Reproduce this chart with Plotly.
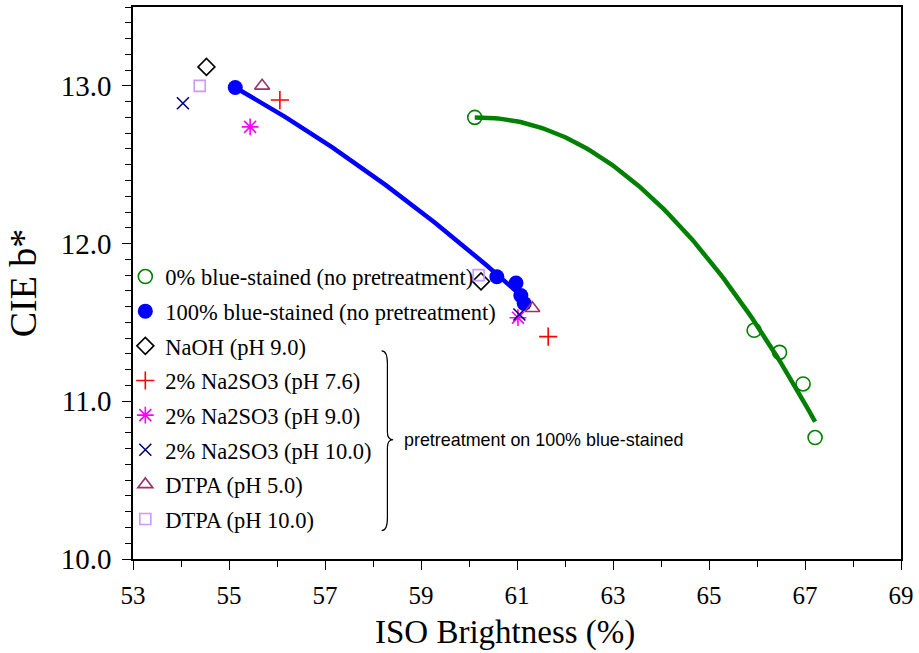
import numpy as np
import plotly.graph_objects as go

# ISO brightness (%) and CIE b* for the unpretreated pulps
brightness_0 = [60.12, 65.94, 66.47, 66.96, 67.21]
b_star_0 = [12.80, 11.45, 11.31, 11.11, 10.77]
brightness_100 = [55.13, 60.58, 60.98, 61.08, 61.15]
b_star_100 = [12.99, 11.79, 11.75, 11.67, 11.62]

# Pretreatments applied to the 100% blue-stained pulp
naoh_90_x = [54.53, 60.25]
naoh_90_y = [13.12, 11.76]
sulfite_76_x = [56.06, 61.65]
sulfite_76_y = [12.91, 11.41]
sulfite_90_x = [55.44, 61.02]
sulfite_90_y = [12.74, 11.53]
sulfite_100_x = [54.04, 61.05]
sulfite_100_y = [12.89, 11.55]
dtpa_50_x = [55.69, 61.32]
dtpa_50_y = [13.00, 11.59]
dtpa_100_x = [54.39, 60.20]
dtpa_100_y = [13.00, 11.80]

SERIF = "Liberation Serif, Times New Roman, serif"
SANS = "Liberation Sans, Arial, sans-serif"


def quad_trend(x, y):
    """Second-order trend line through a series, spanning its x range."""
    coef = np.polyfit(x, y, 2)
    xs = np.linspace(min(x), max(x), 120)
    return xs, np.polyval(coef, xs)


fig = go.Figure()

# trend lines (drawn beneath the markers)
for bx, by, col in [(brightness_0, b_star_0, "#008000"),
                    (brightness_100, b_star_100, "#0000FF")]:
    tx, ty = quad_trend(bx, by)
    fig.add_trace(go.Scatter(x=tx, y=ty, mode="lines", showlegend=False,
                             line=dict(color=col, width=4.5),
                             hoverinfo="skip"))

series = [
    ("0% blue-stained (no pretreatment)", brightness_0, b_star_0,
     dict(symbol="circle-open", size=14, color="#008000", line=dict(width=1.6))),
    ("100% blue-stained (no pretreatment)", brightness_100, b_star_100,
     dict(symbol="circle", size=15, color="#0000FF")),
    ("NaOH (pH 9.0)", naoh_90_x, naoh_90_y,
     dict(symbol="diamond-open", size=13, color="#000000", line=dict(width=1.6))),
    ("2% Na2SO3 (pH 7.6)", sulfite_76_x, sulfite_76_y,
     dict(symbol="cross-thin-open", size=13, color="#FF0000", line=dict(width=1.6, color="#FF0000"))),
    ("2% Na2SO3 (pH 9.0)", sulfite_90_x, sulfite_90_y,
     dict(symbol="asterisk-open", size=14, color="#FF00FF", line=dict(width=1.6, color="#FF00FF"))),
    ("2% Na2SO3 (pH 10.0)", sulfite_100_x, sulfite_100_y,
     dict(symbol="x-thin-open", size=12, color="#000080", line=dict(width=1.6, color="#000080"))),
    ("DTPA (pH 5.0)", dtpa_50_x, dtpa_50_y,
     dict(symbol="triangle-up-open", size=13, color="#993366", line=dict(width=1.6))),
    ("DTPA (pH 10.0)", dtpa_100_x, dtpa_100_y,
     dict(symbol="square-open", size=11, color="#CC99FF", line=dict(width=1.6))),
]
for i, (name, sx, sy, mk) in enumerate(series):
    fig.add_trace(go.Scatter(x=sx, y=sy, mode="markers", name=name,
                             legendgroup=f"g{i}", marker=mk))

# brace grouping the pretreatment entries
bx0, bx1, bx2 = 58.18, 58.30, 58.42
by_top, by_mid, by_bot = 11.32, 10.756, 10.18
brace = (f"M {bx0},{by_top} Q {bx1},{by_top} {bx1},{by_top - 0.08} "
         f"L {bx1},{by_mid + 0.05} Q {bx1},{by_mid} {bx2},{by_mid} "
         f"Q {bx1},{by_mid} {bx1},{by_mid - 0.05} "
         f"L {bx1},{by_bot + 0.08} Q {bx1},{by_bot} {bx0},{by_bot}")
fig.add_shape(type="path", path=brace, xref="x", yref="y",
              line=dict(color="#000000", width=1.2))
fig.add_annotation(x=58.61, y=by_mid, xref="x", yref="y",
                   text="pretreatment on 100% blue-stained", showarrow=False,
                   xanchor="left", yanchor="middle",
                   font=dict(family=SANS, size=17.9, color="#000000"))

# x-axis title, set slightly left of the plot centre
fig.add_annotation(x=0.484, y=-0.133, xref="paper", yref="paper",
                   text="ISO Brightness (%)", showarrow=False,
                   xanchor="center", yanchor="middle",
                   font=dict(family=SERIF, size=33, color="#000000"))

axis_common = dict(showline=True, linecolor="#000000", linewidth=1.5,
                   mirror=True, ticks="outside", tickcolor="#000000",
                   tickwidth=1.2, showgrid=False, zeroline=False)

fig.update_xaxes(range=[53, 69], dtick=2, tick0=53, ticklen=9,
                 ticklabelstandoff=4,
                 tickfont=dict(family=SERIF, size=25, color="#000000"),
                 minor=dict(dtick=1, ticklen=6, ticks="outside",
                            tickcolor="#000000", tickwidth=1.2),
                 **axis_common)
fig.update_yaxes(range=[10, 13.5], dtick=1, tick0=10, ticklen=9,
                 tickformat=".1f", ticklabelstandoff=5,
                 tickfont=dict(family=SERIF, size=29, color="#000000"),
                 minor=dict(dtick=0.1, ticklen=6, ticks="outside",
                            tickcolor="#000000", tickwidth=1.2),
                 title=dict(text="CIE b*", standoff=12,
                            font=dict(family=SERIF, size=38, color="#000000")),
                 **axis_common)

fig.update_layout(
    width=919, height=653,
    margin=dict(l=133, r=17, t=5, b=94),
    paper_bgcolor="#FFFFFF", plot_bgcolor="#FFFFFF",
    showlegend=True,
    legend=dict(x=-0.01, y=0.55, xanchor="left", yanchor="top",
                bgcolor="rgba(0,0,0,0)", borderwidth=0,
                tracegroupgap=2.4, itemwidth=30,
                font=dict(family=SERIF, size=22.5, color="#000000")),
)

fig.write_html("out.html")
